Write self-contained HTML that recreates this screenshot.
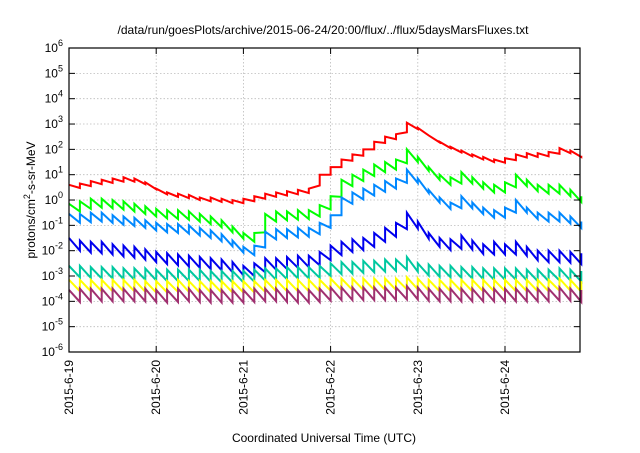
<!DOCTYPE html>
<html><head><meta charset="utf-8"><style>
body{margin:0;background:#fff;}
svg text{font-family:"Liberation Sans",sans-serif;fill:#000;}
</style></head><body>
<svg id="chart" width="640" height="448" viewBox="0 0 640 448" xmlns="http://www.w3.org/2000/svg">
<text x="323" y="34" text-anchor="middle" font-size="12">/data/run/goesPlots/archive/2015-06-24/20:00/flux/../flux/5daysMarsFluxes.txt</text>
<g id="grid"></g>
<g id="series"></g>
<rect x="69" y="48" width="511" height="304" fill="none" stroke="#000" stroke-width="1.2"/>
<g id="axes"></g>
<text transform="translate(35,200) rotate(-90)" text-anchor="middle" font-size="12">protons/cm<tspan dy="-5" font-size="9">2</tspan><tspan dy="5">-s-sr-MeV</tspan></text>
<text x="324" y="442" text-anchor="middle" font-size="12">Coordinated Universal Time (UTC)</text>
</svg>
<script>
const dayLabels=["2015-6-19","2015-6-20","2015-6-21","2015-6-22","2015-6-23","2015-6-24"];
const yExponents=[-6,-5,-4,-3,-2,-1,0,1,2,3,4,5,6];
const seriesColors=["#ff0000","#00ff00","#0088ff","#0000ee","#00c8a0","#ffff00","#a03070"];
const redVals=[0.6,0.65,0.75,0.8,0.85,0.9,0.85,0.7,0.45,0.3,0.25,0.2,0.1,0.1,0.05,0,0.05,0.15,0.25,0.3,0.35,0.4,0.45,1.0,1.3,1.6,1.8,2.0,2.3,2.5,2.6,3.05,2.85,2.55,2.3,2.1,1.95,1.8,1.7,1.6,1.65,1.8,1.85,1.85,1.9,2.05,1.95,1.75];
const greenVals=[-0.15,-0.05,0.05,0.05,0,-0.05,-0.15,-0.25,-0.35,-0.4,-0.4,-0.45,-0.55,-0.65,-0.8,-1.05,-1.3,-1.3,-0.55,-0.45,-0.45,-0.4,-0.4,-0.2,0.15,0.8,1.0,1.2,1.4,1.5,1.6,2.0,1.7,1.3,1.0,0.9,1.1,0.9,0.7,0.6,0.7,1.0,0.8,0.6,0.6,0.6,0.4,0.15];
const lblueVals=[-0.55,-0.55,-0.5,-0.5,-0.6,-0.65,-0.7,-0.8,-0.9,-0.95,-0.95,-1.0,-1.1,-1.2,-1.35,-1.6,-1.85,-1.8,-1.25,-1.15,-1.15,-1.1,-1.1,-0.9,-0.6,0.1,0.3,0.45,0.6,0.75,0.85,1.2,0.85,0.4,0.1,-0.1,0.15,-0.1,-0.3,-0.4,-0.3,0.0,-0.3,-0.5,-0.5,-0.5,-0.65,-0.85];
const dblueVals=[-1.5,-1.6,-1.65,-1.65,-1.75,-1.8,-1.85,-1.95,-2.05,-2.1,-2.15,-2.2,-2.25,-2.3,-2.35,-2.45,-2.6,-2.5,-2.3,-2.3,-2.25,-2.2,-2.2,-2.05,-1.8,-1.65,-1.55,-1.5,-1.3,-1.1,-0.9,-0.5,-0.85,-1.3,-1.5,-1.55,-1.4,-1.6,-1.75,-1.65,-1.75,-1.65,-1.85,-2.0,-2.0,-2.0,-2.05,-2.1];
const tealVals=[-2.6,-2.6,-2.65,-2.65,-2.65,-2.7,-2.7,-2.7,-2.75,-2.75,-2.75,-2.75,-2.75,-2.8,-2.8,-2.8,-2.8,-2.75,-2.7,-2.7,-2.65,-2.65,-2.65,-2.6,-2.5,-2.45,-2.45,-2.4,-2.4,-2.35,-2.35,-2.25,-2.5,-2.55,-2.6,-2.6,-2.65,-2.65,-2.7,-2.7,-2.7,-2.7,-2.75,-2.75,-2.75,-2.7,-2.75,-2.8];
const yellowVals=[-3.15,-3.15,-3.15,-3.15,-3.15,-3.15,-3.15,-3.2,-3.2,-3.2,-3.15,-3.2,-3.2,-3.2,-3.2,-3.2,-3.2,-3.2,-3.15,-3.15,-3.15,-3.15,-3.15,-3.15,-3.1,-3.1,-3.1,-3.1,-3.1,-3.1,-3.1,-3.05,-3.1,-3.15,-3.15,-3.15,-3.15,-3.15,-3.15,-3.15,-3.15,-3.15,-3.15,-3.15,-3.15,-3.1,-3.15,-3.2];
const purpleVals=[-3.55,-3.5,-3.5,-3.5,-3.5,-3.5,-3.5,-3.5,-3.55,-3.55,-3.5,-3.5,-3.55,-3.55,-3.55,-3.55,-3.55,-3.5,-3.5,-3.5,-3.55,-3.55,-3.55,-3.5,-3.45,-3.45,-3.45,-3.45,-3.45,-3.45,-3.45,-3.4,-3.45,-3.5,-3.5,-3.5,-3.5,-3.5,-3.5,-3.5,-3.5,-3.5,-3.5,-3.5,-3.5,-3.45,-3.5,-3.55];
const seriesDrops=[0.15,0.35,0.35,0.45,0.45,0.45,0.5];
const allSeries=[redVals,greenVals,lblueVals,dblueVals,tealVals,yellowVals,purpleVals];
const seriesNames=["series-red","series-green","series-light-blue","series-dark-blue","series-teal","series-yellow","series-purple"];

const X0=69,PXDAY=87.2,Y0=352,PXDEC=25.33;
const NS="http://www.w3.org/2000/svg";
function xs(day){return X0+day*PXDAY;}
function ys(lg){return Y0-(lg+6)*PXDEC;}
function mk(tag,attrs,parent){const e=document.createElementNS(NS,tag);for(const k in attrs)e.setAttribute(k,attrs[k]);parent.appendChild(e);return e;}
const grid=document.getElementById('grid'),axes=document.getElementById('axes'),sg=document.getElementById('series');
yExponents.forEach(p=>{
  const y=ys(p);
  if(p>-6&&p<6){
    const g=mk('line',{x1:69,x2:580,y1:y,y2:y,stroke:'#bbb','stroke-dasharray':'1.5,2','stroke-width':0.8},grid);
    
    
    const t1=mk('line',{x1:69,x2:75,y1:y,y2:y,stroke:'#000'},axes);
    
    
    const t2=mk('line',{x1:574,x2:580,y1:y,y2:y,stroke:'#000'},axes);
    
    
  }
  const tx=mk('text',{x:63,y:y+4,'text-anchor':'end','font-size':12},axes);
  
  
  tx.textContent='10';
  const sp=mk('tspan',{dy:-6,'font-size':9},tx);sp.textContent=String(p);
});
dayLabels.forEach((d,i)=>{
  const x=xs(i);
  if(i>0){
    const g=mk('line',{x1:x,x2:x,y1:48,y2:352,stroke:'#bbb','stroke-dasharray':'1.5,2','stroke-width':0.8},grid);
    
    
    const t1=mk('line',{x1:x,x2:x,y1:346,y2:352,stroke:'#000'},axes);
    
    
    const t2=mk('line',{x1:x,x2:x,y1:48,y2:54,stroke:'#000'},axes);
    
    
  }
  const tx=mk('text',{transform:`translate(${x+4},360) rotate(-90)`,'text-anchor':'end','font-size':12},axes);
  
  
  tx.textContent=d;
});
allSeries.forEach((vals,si)=>{
  const drop=seriesDrops[si];
  let d=`M${xs(0)},${ys(vals[0])}`;
  for(let i=1;i<vals.length;i++){
    const day=i/8;
    d+=` L${xs(day)},${ys(vals[i-1]-drop+(vals[i]-vals[i-1])*0.5)} L${xs(day)},${ys(vals[i])}`;
  }
  const p=mk('path',{d:d,fill:'none',stroke:seriesColors[si],'stroke-width':2,'stroke-linejoin':'miter'},sg);
  
  
});
</script>
</body></html>
